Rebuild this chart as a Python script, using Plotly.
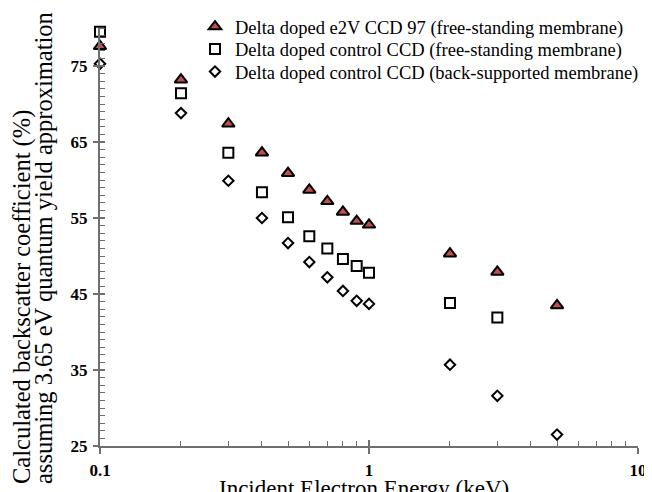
import plotly.graph_objects as go

# ---- data ----
energy_all = [0.1, 0.2, 0.3, 0.4, 0.5, 0.6, 0.7, 0.8, 0.9, 1, 2, 3, 5]
e2v_free = [77.6, 73.2, 67.4, 63.6, 60.9, 58.7, 57.2, 55.8, 54.6, 54.1, 50.3, 47.9, 43.5]

energy_ctrl_free = [0.1, 0.2, 0.3, 0.4, 0.5, 0.6, 0.7, 0.8, 0.9, 1, 2, 3]
ctrl_free = [79.5, 71.4, 63.6, 58.4, 55.1, 52.6, 51.0, 49.6, 48.7, 47.8, 43.8, 41.9]

ctrl_back = [75.3, 68.8, 59.9, 55.0, 51.7, 49.2, 47.2, 45.4, 44.1, 43.7, 35.7, 31.6, 26.5]

series_names = [
    "Delta doped e2V CCD 97 (free-standing membrane)",
    "Delta doped control CCD (free-standing membrane)",
    "Delta doped control CCD (back-supported membrane)",
]
x_tick_vals = [0.1, 1, 10]
x_tick_text = ["0.1", "1", "10"]
y_tick_vals = [25, 35, 45, 55, 65, 75]
x_title = "Incident Electron Energy (keV)"
y_title_1 = "Calculated backscatter coefficient (%)"
y_title_2 = "assuming 3.65 eV quantum yield approximation"

SERIF = "Liberation Serif, Times New Roman, serif"
# the page body has an 8px margin: the figure is drawn 8px right / 8px down
OFF = 8
W, H = 652 - OFF, 492 - OFF
# plot area in screen pixels: x 100..638, y 28..446
ML, MR, MT, MB = 100 - OFF, 652 - 638, 28 - OFF, 492 - 446
PW, PH = W - ML - MR, H - MT - MB


def px2paper_x(px):
    return (px - OFF - ML) / PW


def px2paper_y(py):
    return (H - MB - (py - OFF)) / PH


fig = go.Figure()
fig.add_trace(go.Scatter(
    x=energy_all, y=e2v_free, mode="markers", name=series_names[0],
    marker=dict(symbol="triangle-up", size=11, color="#c0504d",
                line=dict(color="black", width=2)),
    cliponaxis=False, legend="legend"))
fig.add_trace(go.Scatter(
    x=energy_ctrl_free, y=ctrl_free, mode="markers", name=series_names[1],
    marker=dict(symbol="square", size=10, color="white",
                line=dict(color="black", width=2)),
    cliponaxis=False, legend="legend2"))
fig.add_trace(go.Scatter(
    x=energy_all, y=ctrl_back, mode="markers", name=series_names[2],
    marker=dict(symbol="diamond", size=8, color="white",
                line=dict(color="black", width=2)),
    cliponaxis=False, legend="legend3"))
# empty trace to host the overlay axes (inner half of crossing major ticks)
fig.add_trace(go.Scatter(x=[], y=[], xaxis="x2", yaxis="y2", showlegend=False,
                         hoverinfo="skip"))

AX = "#6f6f6f"
tickfont = dict(family=SERIF, size=17, color="black")

fig.update_layout(
    width=W, height=H,
    margin=dict(l=ML, r=MR, t=MT, b=MB, autoexpand=False),
    paper_bgcolor="white", plot_bgcolor="white",
    showlegend=True,
    xaxis=dict(type="log", range=[-1, 1], showgrid=False, zeroline=False,
               showline=True, linecolor=AX, linewidth=2,
               ticks="outside", ticklen=6, tickwidth=1.5, tickcolor=AX,
               tickvals=x_tick_vals,
               ticktext=["<b>%s</b>" % t for t in x_tick_text],
               tickfont=tickfont, ticklabelstandoff=2,
               minor=dict(ticks="inside", ticklen=5, tickwidth=1, tickcolor=AX,
                          tickvals=[0.2, 0.3, 0.4, 0.5, 0.6, 0.7, 0.8, 0.9,
                                    2, 3, 4, 5, 6, 7, 8, 9])),
    yaxis=dict(range=[25, 80], showgrid=False, zeroline=False,
               showline=True, linecolor=AX, linewidth=2,
               ticks="outside", ticklen=5, tickwidth=1.5, tickcolor=AX,
               tickvals=y_tick_vals,
               ticktext=["<b>%d</b>" % v for v in y_tick_vals],
               tickfont=tickfont, ticklabelstandoff=2,
               minor=dict(ticks="inside", ticklen=5, tickwidth=1, tickcolor=AX,
                          tick0=25, dtick=1)),
    xaxis2=dict(type="log", range=[-1, 1], overlaying="x", anchor="y2",
                showgrid=False, zeroline=False, showline=False,
                ticks="inside", ticklen=6, tickwidth=1.5, tickcolor=AX,
                tickvals=[1, 10], showticklabels=False),
    yaxis2=dict(range=[25, 80], overlaying="y", anchor="x2",
                showgrid=False, zeroline=False, showline=False,
                ticks="inside", ticklen=5, tickwidth=1.5, tickcolor=AX,
                tickvals=y_tick_vals, showticklabels=False),
)

leg_common = dict(xanchor="left", yanchor="middle", bgcolor="rgba(0,0,0,0)",
                  borderwidth=0, font=dict(family=SERIF, size=18.5, color="black"))
fig.update_layout(
    legend=dict(x=px2paper_x(195), y=px2paper_y(27), **leg_common),
    legend2=dict(x=px2paper_x(195), y=px2paper_y(49.5), **leg_common),
    legend3=dict(x=px2paper_x(195), y=px2paper_y(72), **leg_common),
)

# axis titles
fig.add_annotation(text=x_title, xref="paper", yref="paper",
                   x=px2paper_x(364), y=px2paper_y(474), xanchor="center",
                   yanchor="top", showarrow=False,
                   font=dict(family=SERIF, size=23, color="black"))
fig.add_annotation(text=y_title_1, xref="paper", yref="paper",
                   x=px2paper_x(22), y=px2paper_y(486), xanchor="center",
                   yanchor="bottom", textangle=-90, showarrow=False,
                   font=dict(family=SERIF, size=24.5, color="black"))
fig.add_annotation(text=y_title_2, xref="paper", yref="paper",
                   x=px2paper_x(43), y=px2paper_y(486), xanchor="center",
                   yanchor="bottom", textangle=-90, showarrow=False,
                   font=dict(family=SERIF, size=24.5, color="black"))

fig.write_html("out.html")
